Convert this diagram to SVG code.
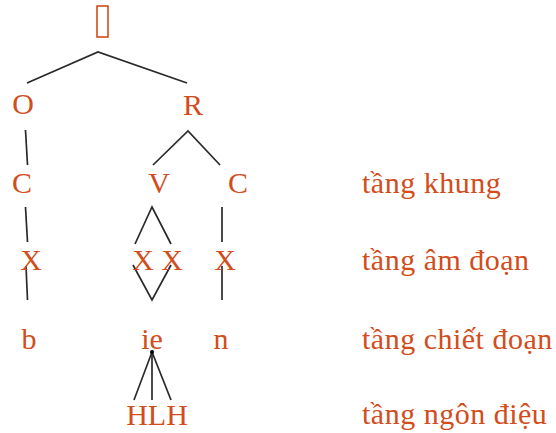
<svg xmlns="http://www.w3.org/2000/svg" width="556" height="433" viewBox="0 0 556 433">
<style>
.t{font-family:"Liberation Serif","Times New Roman",serif;font-size:30px;fill:#D24D1B;}
.m{text-anchor:middle;}
.l{stroke:#2a2a2a;stroke-width:1.7;fill:none;}
</style>
<rect width="556" height="433" fill="#fff"/>
<g id="connectors">
<polyline class="l" points="27,83 98,52 187,83"/>
<line class="l" x1="25.5" y1="130" x2="27.5" y2="165"/>
<polyline class="l" points="153,165 188,131 220,165"/>
<line class="l" x1="25.5" y1="207" x2="27.5" y2="242"/>
<polyline class="l" points="135,244 152,207 171,244"/>
<line class="l" x1="222" y1="207" x2="222" y2="242"/>
<line class="l" x1="26" y1="266" x2="27.5" y2="300"/>
<polyline class="l" points="133,265 152,300 171,265"/>
<line class="l" x1="222" y1="266" x2="222" y2="300"/>
<line class="l" x1="152" y1="352" x2="134" y2="400"/>
<line class="l" x1="152" y1="352" x2="152" y2="400"/>
<line class="l" x1="152" y1="352" x2="171" y2="400"/>
<circle cx="152" cy="352" r="2" fill="#000"/>
</g>
<g id="node-root"><rect x="97" y="6" width="11" height="31" fill="none" stroke="#D24D1B" stroke-width="1.6"/></g>
<g id="node-O"><text class="t m" x="23" y="114">O</text></g>
<g id="node-R"><text class="t m" x="193" y="115">R</text></g>
<g id="node-C1"><text class="t m" x="22" y="193">C</text></g>
<g id="node-V"><text class="t m" x="159" y="193">V</text></g>
<g id="node-C2"><text class="t m" x="238" y="193">C</text></g>
<g id="node-X1"><text class="t m" x="31" y="270">X</text></g>
<g id="node-X2"><text class="t m" x="143" y="270">X</text></g>
<g id="node-X3"><text class="t m" x="172" y="270">X</text></g>
<g id="node-X4"><text class="t m" x="225" y="270">X</text></g>
<g id="node-b"><text class="t m" x="29" y="349">b</text></g>
<g id="node-ie"><text class="t m" x="152" y="349">ie</text></g>
<g id="node-n"><text class="t m" x="221" y="349">n</text></g>
<g id="node-HLH"><text class="t m" x="157" y="425">HLH</text></g>
<g id="labels">
<text class="t" x="362" y="193" letter-spacing="0.5">tầng khung</text>
<text class="t" x="362" y="270" letter-spacing="0.5">tầng âm đoạn</text>
<text class="t" x="362" y="349" letter-spacing="0.5">tầng chiết đoạn</text>
<text class="t" x="362" y="424" letter-spacing="0.5">tầng ngôn điệu</text>
</g>
</svg>
